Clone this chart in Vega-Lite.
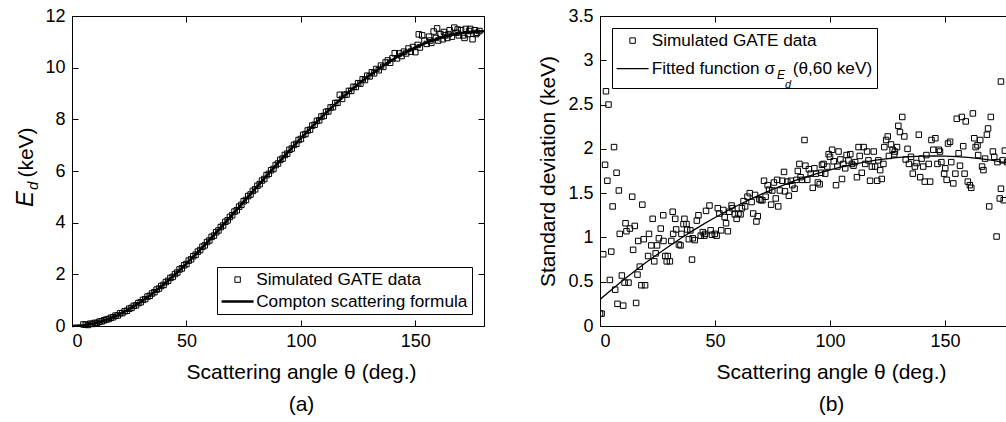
{
  "$schema": "https://vega.github.io/schema/vega-lite/v6.json",
  "padding": {"left": 12, "top": 6, "right": 0, "bottom": 0},
  "background": "white",
  "bounds": "flush",
  "spacing": 116,
  "resolve": {"scale": {"color": "independent"}, "legend": {"color": "independent"}},
  "config": {
    "font": "Liberation Sans",
    "view": {"stroke": "black", "strokeWidth": 1},
    "axis": {"grid": false, "domainColor": "black", "tickColor": "black", "labelColor": "black", "titleColor": "black", "labelFontSize": 18, "titleFontSize": 21, "titleFontWeight": "normal", "tickSize": -6, "labelFont": "Liberation Sans", "titleFont": "Liberation Sans"},
    "legend": {"labelFont": "Liberation Sans", "labelFontSize": 17.2, "labelColor": "black", "strokeColor": "black", "labelLimit": 400},
    "title": {"font": "Liberation Sans", "fontWeight": "normal", "color": "black"}
  },
  "datasets": {
    "pa": [
      {"t":5,"e":0.06},{"t":6,"e":0.05},{"t":7,"e":0.04},{"t":8,"e":0.09},{"t":9,"e":0.08},{"t":10,"e":0.12},{"t":11,"e":0.12},{"t":12,"e":0.17},{"t":13,"e":0.18},{"t":14,"e":0.22},
      {"t":15,"e":0.25},{"t":16,"e":0.27},{"t":17,"e":0.32},{"t":18,"e":0.34},{"t":19,"e":0.40},{"t":20,"e":0.41},{"t":21,"e":0.49},{"t":22,"e":0.50},{"t":23,"e":0.57},{"t":24,"e":0.59},
      {"t":25,"e":0.67},{"t":26,"e":0.70},{"t":27,"e":0.78},{"t":28,"e":0.80},{"t":29,"e":0.89},{"t":30,"e":0.92},{"t":31,"e":1.01},{"t":32,"e":1.04},{"t":33,"e":1.14},{"t":34,"e":1.17},
      {"t":35,"e":1.26},{"t":36,"e":1.31},{"t":37,"e":1.41},{"t":38,"e":1.45},{"t":39,"e":1.55},{"t":40,"e":1.59},{"t":41,"e":1.70},{"t":42,"e":1.75},{"t":43,"e":1.86},{"t":44,"e":1.90},
      {"t":45,"e":2.01},{"t":46,"e":2.07},{"t":47,"e":2.19},{"t":48,"e":2.23},{"t":49,"e":2.35},{"t":50,"e":2.40},{"t":51,"e":2.53},{"t":52,"e":2.58},{"t":53,"e":2.70},{"t":54,"e":2.76},
      {"t":55,"e":2.88},{"t":56,"e":2.94},{"t":57,"e":3.07},{"t":58,"e":3.12},{"t":59,"e":3.25},{"t":60,"e":3.31},{"t":61,"e":3.45},{"t":62,"e":3.50},{"t":63,"e":3.63},{"t":64,"e":3.70},
      {"t":65,"e":3.83},{"t":66,"e":3.89},{"t":67,"e":4.03},{"t":68,"e":4.09},{"t":69,"e":4.22},{"t":70,"e":4.29},{"t":71,"e":4.43},{"t":72,"e":4.48},{"t":73,"e":4.62},{"t":74,"e":4.69},
      {"t":75,"e":4.83},{"t":76,"e":4.88},{"t":77,"e":5.03},{"t":78,"e":5.09},{"t":79,"e":5.23},{"t":80,"e":5.29},{"t":81,"e":5.43},{"t":82,"e":5.49},{"t":83,"e":5.63},{"t":84,"e":5.69},
      {"t":85,"e":5.84},{"t":86,"e":5.89},{"t":87,"e":6.03},{"t":88,"e":6.08},{"t":89,"e":6.23},{"t":90,"e":6.29},{"t":91,"e":6.43},{"t":92,"e":6.48},{"t":93,"e":6.62},{"t":94,"e":6.67},
      {"t":95,"e":6.82},{"t":96,"e":6.87},{"t":97,"e":7.01},{"t":98,"e":7.05},{"t":99,"e":7.20},{"t":100,"e":7.24},{"t":101,"e":7.40},{"t":102,"e":7.43},{"t":103,"e":7.57},{"t":104,"e":7.60},
      {"t":105,"e":7.76},{"t":106,"e":7.79},{"t":107,"e":7.94},{"t":108,"e":7.96},{"t":109,"e":8.11},{"t":110,"e":8.13},{"t":111,"e":8.29},{"t":112,"e":8.31},{"t":113,"e":8.46},{"t":114,"e":8.47},
      {"t":115,"e":8.63},{"t":116,"e":8.64},{"t":117,"e":8.95},{"t":118,"e":8.79},{"t":119,"e":8.95},{"t":120,"e":8.96},{"t":121,"e":9.10},{"t":122,"e":9.10},{"t":123,"e":9.26},{"t":124,"e":9.25},
      {"t":125,"e":9.40},{"t":126,"e":9.38},{"t":127,"e":9.55},{"t":128,"e":9.52},{"t":129,"e":9.69},{"t":130,"e":9.66},{"t":131,"e":9.82},{"t":132,"e":9.78},{"t":133,"e":9.95},{"t":134,"e":9.90},
      {"t":135,"e":10.08},{"t":136,"e":10.03},{"t":137,"e":10.20},{"t":138,"e":10.28},{"t":139,"e":10.19},{"t":140,"e":10.36},{"t":141,"e":10.56},{"t":142,"e":10.36},{"t":143,"e":10.55},{"t":144,"e":10.45},
      {"t":145,"e":10.62},{"t":146,"e":10.55},{"t":147,"e":10.74},{"t":148,"e":10.62},{"t":149,"e":10.80},{"t":150,"e":10.60},{"t":151,"e":10.88},{"t":151.5,"e":11.29},{"t":152,"e":10.78},{"t":153,"e":11.25},
      {"t":154,"e":11.05},{"t":155,"e":10.92},{"t":156,"e":11.20},{"t":156.5,"e":11.05},{"t":157,"e":10.96},{"t":158,"e":11.40},{"t":159,"e":11.15},{"t":159.5,"e":11.52},{"t":160,"e":11.05},{"t":161,"e":11.30},
      {"t":162,"e":11.10},{"t":162.5,"e":11.38},{"t":163,"e":11.25},{"t":164,"e":11.15},{"t":164.5,"e":11.30},{"t":165,"e":11.45},{"t":166,"e":11.20},{"t":167,"e":11.55},{"t":168,"e":11.35},{"t":168.5,"e":11.48},
      {"t":169,"e":11.25},{"t":170,"e":11.45},{"t":171,"e":11.25},{"t":171.5,"e":11.15},{"t":172,"e":11.50},{"t":173,"e":11.30},{"t":173.5,"e":11.42},{"t":174,"e":11.50},{"t":175,"e":11.10},{"t":176,"e":11.45},
      {"t":176.5,"e":11.30},{"t":177,"e":11.35},{"t":178,"e":11.42}
    ],
    "la": [
      {"t":0,"e":0},{"t":5,"e":0.027},{"t":10,"e":0.107},{"t":15,"e":0.239},{"t":20,"e":0.422},{"t":25,"e":0.653},{"t":30,"e":0.929},{"t":35,"e":1.248},{"t":40,"e":1.604},{"t":45,"e":1.995},
      {"t":50,"e":2.415},{"t":55,"e":2.861},{"t":60,"e":3.327},{"t":65,"e":3.810},{"t":70,"e":4.303},{"t":75,"e":4.804},{"t":80,"e":5.307},{"t":85,"e":5.809},{"t":90,"e":6.305},{"t":95,"e":6.792},
      {"t":100,"e":7.267},{"t":105,"e":7.726},{"t":110,"e":8.168},{"t":115,"e":8.588},{"t":120,"e":8.985},{"t":125,"e":9.357},{"t":130,"e":9.702},{"t":135,"e":10.019},{"t":140,"e":10.305},{"t":145,"e":10.560},
      {"t":150,"e":10.784},{"t":155,"e":10.974},{"t":160,"e":11.130},{"t":165,"e":11.253},{"t":170,"e":11.340},{"t":175,"e":11.393},{"t":180,"e":11.411}
    ],
    "pb": [
      {"t":0,"s":0.14},{"t":0.7,"s":0.14},{"t":2.6,"s":2.65},{"t":3.7,"s":2.50},{"t":2.2,"s":1.82},{"t":3.2,"s":1.64},{"t":6.1,"s":2.02},{"t":7.2,"s":1.73},{"t":5.5,"s":1.35},{"t":8.2,"s":1.53},
      {"t":1.4,"s":0.81},{"t":4.9,"s":0.84},{"t":4.3,"s":0.52},{"t":6.6,"s":0.41},{"t":7.6,"s":0.25},{"t":10.1,"s":0.23},{"t":9.5,"s":0.57},{"t":10.7,"s":0.49},{"t":12.4,"s":0.49},{"t":8.6,"s":1.04},
      {"t":11.1,"s":1.16},{"t":11.5,"s":1.07},{"t":13,"s":1.10},{"t":15.1,"s":1.13},{"t":14,"s":1.46},{"t":18.4,"s":1.37},{"t":14.4,"s":0.86},{"t":15.7,"s":0.26},{"t":16.3,"s":0.58},{"t":17.3,"s":0.67},
      {"t":18,"s":0.46},{"t":19.6,"s":0.46},{"t":16.6,"s":0.96},{"t":19,"s":0.98},{"t":20.9,"s":0.79},{"t":21.3,"s":1.04},{"t":22.9,"s":1.21},{"t":22.3,"s":0.91},{"t":23.6,"s":0.73},{"t":24.2,"s":0.82},
      {"t":24.8,"s":0.91},{"t":25.6,"s":0.99},{"t":26.4,"s":1.10},{"t":27.5,"s":1.25},{"t":27.6,"s":0.96},{"t":28.4,"s":0.79},{"t":29,"s":0.73},{"t":30.4,"s":0.73},{"t":29.5,"s":0.79},{"t":31,"s":0.96},
      {"t":31.6,"s":1.29},{"t":31.8,"s":1.04},{"t":32.7,"s":1.21},{"t":33.1,"s":1.09},{"t":34.3,"s":0.92},{"t":35,"s":0.91},{"t":35.4,"s":1.04},{"t":36.3,"s":1.15},{"t":36.7,"s":1.21},{"t":37.6,"s":1.15},
      {"t":37.9,"s":1.09},{"t":38.6,"s":0.98},{"t":39.3,"s":1.08},{"t":40,"s":0.75},{"t":40.3,"s":0.99},{"t":41.2,"s":0.97},{"t":42.1,"s":1.19},{"t":42.8,"s":1.25},{"t":43.8,"s":1.02},{"t":44.7,"s":1.06},
      {"t":45.4,"s":1.02},{"t":46.1,"s":1.30},{"t":45.7,"s":1.04},{"t":47.6,"s":1.36},{"t":48.1,"s":1.08},{"t":48.7,"s":1.03},{"t":49.9,"s":1.04},{"t":50.7,"s":1.02},{"t":51.2,"s":1.33},{"t":51.9,"s":1.27},
      {"t":52.7,"s":1.08},{"t":53.6,"s":1.31},{"t":54.2,"s":1.23},{"t":54.8,"s":1.16},{"t":55.6,"s":1.07},{"t":56.2,"s":1.29},{"t":57.2,"s":1.36},{"t":57.6,"s":1.33},{"t":58.6,"s":1.26},{"t":59.4,"s":1.21},
      {"t":60.2,"s":1.27},{"t":61.1,"s":1.26},{"t":61.7,"s":1.33},{"t":62.4,"s":1.41},{"t":63.1,"s":1.35},{"t":64.1,"s":1.46},{"t":65.1,"s":1.50},{"t":65.9,"s":1.40},{"t":66.6,"s":1.27},{"t":67.4,"s":1.48},
      {"t":68,"s":1.18},{"t":68.6,"s":1.24},{"t":69.3,"s":1.43},{"t":70,"s":1.42},{"t":70.6,"s":1.42},{"t":71.3,"s":1.64},{"t":72,"s":1.46},{"t":72.9,"s":1.59},{"t":73.5,"s":1.54},{"t":74.4,"s":1.37},
      {"t":74.9,"s":1.53},{"t":75.6,"s":1.62},{"t":76.4,"s":1.44},{"t":77,"s":1.65},{"t":77.5,"s":1.35},{"t":78.2,"s":1.53},{"t":79.3,"s":1.64},{"t":80,"s":1.74},{"t":80.4,"s":1.52},{"t":81.4,"s":1.63},
      {"t":82.1,"s":1.47},{"t":83,"s":1.64},{"t":83.6,"s":1.59},{"t":84.6,"s":1.55},{"t":85.4,"s":1.65},{"t":86,"s":1.75},{"t":86.7,"s":1.83},{"t":87.2,"s":1.68},{"t":87.9,"s":1.65},{"t":88.9,"s":2.10},
      {"t":89.3,"s":1.81},{"t":90.1,"s":1.65},{"t":90.8,"s":1.77},{"t":91.6,"s":1.72},{"t":92.5,"s":1.56},{"t":93.2,"s":1.78},{"t":93.9,"s":1.72},{"t":94.7,"s":1.62},{"t":95.5,"s":1.60},{"t":96.1,"s":1.73},
      {"t":96.5,"s":1.82},{"t":97.2,"s":1.83},{"t":97.9,"s":1.72},{"t":98.8,"s":1.80},{"t":99.4,"s":1.94},{"t":100,"s":1.91},{"t":100.9,"s":1.99},{"t":101.6,"s":1.86},{"t":102.6,"s":1.59},{"t":103.2,"s":1.80},
      {"t":103.7,"s":1.97},{"t":104.5,"s":1.88},{"t":105.2,"s":1.66},{"t":105.8,"s":1.83},{"t":106.6,"s":1.78},{"t":107.2,"s":1.93},{"t":108,"s":1.87},{"t":108.8,"s":1.94},{"t":109.5,"s":1.83},{"t":110.2,"s":1.81},
      {"t":110.9,"s":1.85},{"t":111.7,"s":1.68},{"t":112.4,"s":2.02},{"t":112.9,"s":1.92},{"t":113.8,"s":1.73},{"t":114.6,"s":2.02},{"t":115.3,"s":1.83},{"t":116.1,"s":1.97},{"t":116.7,"s":1.87},{"t":117.4,"s":1.64},
      {"t":118.2,"s":1.80},{"t":119,"s":1.97},{"t":119.6,"s":1.80},{"t":120.5,"s":1.64},{"t":121,"s":1.87},{"t":121.8,"s":1.76},{"t":122.5,"s":1.66},{"t":123.2,"s":1.83},{"t":123.6,"s":2.02},{"t":124.4,"s":2.10},
      {"t":125.1,"s":2.14},{"t":125.6,"s":1.92},{"t":126.5,"s":2.05},{"t":127.2,"s":1.99},{"t":127.9,"s":1.94},{"t":128.2,"s":1.97},{"t":129.1,"s":2.02},{"t":129.7,"s":2.26},{"t":130.4,"s":2.19},{"t":131.4,"s":2.36},
      {"t":132.3,"s":2.14},{"t":132.9,"s":1.88},{"t":133.7,"s":2.00},{"t":134.3,"s":1.83},{"t":135.2,"s":1.91},{"t":136,"s":1.72},{"t":136.9,"s":1.80},{"t":137.6,"s":1.84},{"t":138.6,"s":2.16},{"t":139.2,"s":1.68},
      {"t":139.8,"s":1.89},{"t":140.5,"s":1.80},{"t":141.2,"s":1.63},{"t":141.9,"s":1.93},{"t":142.9,"s":1.83},{"t":143.5,"s":1.63},{"t":144.1,"s":2.10},{"t":144.9,"s":1.99},{"t":145.8,"s":2.12},{"t":146.7,"s":1.83},
      {"t":147.3,"s":1.99},{"t":147.8,"s":1.97},{"t":148.4,"s":1.85},{"t":149.6,"s":1.72},{"t":150.1,"s":1.78},{"t":150.7,"s":1.65},{"t":151.3,"s":2.06},{"t":152.2,"s":2.08},{"t":152.7,"s":1.85},{"t":153.6,"s":1.61},
      {"t":154.5,"s":1.72},{"t":155.1,"s":2.34},{"t":155.9,"s":1.95},{"t":156.5,"s":1.81},{"t":157.3,"s":2.36},{"t":157.9,"s":2.03},{"t":158.5,"s":1.72},{"t":159,"s":2.31},{"t":159.9,"s":1.63},{"t":160.8,"s":1.59},
      {"t":161.4,"s":1.56},{"t":162.1,"s":2.40},{"t":162.7,"s":2.12},{"t":163.3,"s":2.02},{"t":164.1,"s":2.04},{"t":164.4,"s":1.93},{"t":165.3,"s":2.10},{"t":166.1,"s":1.80},{"t":166.7,"s":1.76},{"t":167.4,"s":1.89},
      {"t":168.2,"s":2.16},{"t":168.7,"s":2.23},{"t":169.2,"s":1.35},{"t":169.9,"s":2.36},{"t":170.8,"s":1.97},{"t":171.4,"s":1.91},{"t":172.4,"s":1.01},{"t":172.8,"s":1.85},{"t":174.3,"s":2.76},{"t":173.8,"s":1.44},
      {"t":174.3,"s":1.55},{"t":175,"s":1.87},{"t":175.5,"s":1.42},{"t":176,"s":1.98},{"t":177,"s":1.85}
    ],
    "lb": [
      {"t":0,"s":0.300},{"t":5,"s":0.410},{"t":10,"s":0.516},{"t":15,"s":0.618},{"t":20,"s":0.716},{"t":25,"s":0.810},{"t":30,"s":0.901},{"t":35,"s":0.988},{"t":40,"s":1.071},{"t":45,"s":1.150},
      {"t":50,"s":1.225},{"t":55,"s":1.296},{"t":60,"s":1.363},{"t":65,"s":1.427},{"t":70,"s":1.487},{"t":75,"s":1.542},{"t":80,"s":1.594},{"t":85,"s":1.643},{"t":90,"s":1.687},{"t":95,"s":1.727},
      {"t":100,"s":1.764},{"t":105,"s":1.797},{"t":110,"s":1.826},{"t":115,"s":1.851},{"t":120,"s":1.872},{"t":125,"s":1.889},{"t":130,"s":1.903},{"t":135,"s":1.912},{"t":140,"s":1.918},{"t":145,"s":1.920},
      {"t":150,"s":1.918},{"t":155,"s":1.912},{"t":160,"s":1.903},{"t":165,"s":1.889},{"t":170,"s":1.872},{"t":175,"s":1.851},{"t":180,"s":1.826}
    ]
  },
  "hconcat": [
    {
      "width": 412,
      "height": 310,
      "title": {"text": "d", "orient": "left", "anchor": "start", "frame": "group", "baseline": "alphabetic", "dx": 136, "dy": 0, "offset": -40, "fontSize": 15, "fontStyle": "italic"},
      "resolve": {"axis": {"x": "independent", "y": "independent"}},
      "layer": [
        {
          "data": {"name": "pa"},
          "mark": {"type": "point", "shape": "square", "filled": false, "size": 30, "strokeWidth": 1, "opacity": 1},
          "encoding": {
            "x": {"field": "t", "type": "quantitative", "scale": {"domain": [0, 180], "nice": false},
                  "axis": {"orient": "bottom", "values": [0, 50, 100, 150], "labelPadding": 12, "title": ["Scattering angle θ (deg.)", "(a)"], "titleX": 229, "titleY": 52, "titleBaseline": "alphabetic", "titleAlign": "center", "titleAngle": 0, "titleLineHeight": 32}},
            "y": {"field": "e", "type": "quantitative", "scale": {"domain": [0, 12], "nice": false},
                  "axis": {"orient": "left", "values": [0, 2, 4, 6, 8, 10, 12], "labelPadding": 13, "title": "(keV)", "titleX": -40, "titleY": 136, "titleBaseline": "alphabetic", "titleAlign": "center", "titleAngle": -90}},
            "color": {"datum": "Simulated GATE data", "type": "nominal",
                      "scale": {"domain": ["Simulated GATE data", "Compton scattering formula"], "range": ["black", "black"]},
                      "legend": {"title": null, "orient": "bottom-right", "offset": 12, "padding": 4, "rowPadding": 4, "symbolOffset": 8, "labelOffset": 10, "columns": 1, "strokeColor": "black", "fillColor": "white",
                                 "encoding": {"symbols": {
                                   "shape": {"value": {"expr": "datum.value === 'Simulated GATE data' ? 'square' : 'stroke'"}},
                                   "size": {"value": {"expr": "datum.value === 'Simulated GATE data' ? 30 : 1024"}},
                                   "strokeWidth": {"value": {"expr": "datum.value === 'Simulated GATE data' ? 1 : 2.5"}},
                                   "stroke": {"value": "black"},
                                   "fill": {"value": "transparent"},
                                   "opacity": {"value": 1}}}}}
          }
        },
        {
          "data": {"name": "la"},
          "mark": {"type": "line", "strokeWidth": 2.5},
          "encoding": {
            "x": {"field": "t", "type": "quantitative", "axis": {"orient": "top", "values": [0, 50, 100, 150], "labels": false, "title": null, "domain": false}},
            "y": {"field": "e", "type": "quantitative", "axis": {"orient": "right", "values": [0, 2, 4, 6, 8, 10, 12], "labels": false, "domain": false, "title": "E", "titleX": -452, "titleY": 182.5, "titleBaseline": "alphabetic", "titleAlign": "center", "titleAngle": -90, "titleFontSize": 24, "titleFontStyle": "italic"}},
            "color": {"datum": "Compton scattering formula", "type": "nominal"}
          }
        }
      ]
    },
    {
      "width": 406,
      "height": 310,
      "resolve": {"axis": {"x": "independent", "y": "independent"}},
      "layer": [
        {
          "data": {"name": "pb"},
          "mark": {"type": "point", "shape": "square", "filled": false, "size": 30, "strokeWidth": 1, "opacity": 1, "clip": true},
          "encoding": {
            "x": {"field": "t", "type": "quantitative", "scale": {"domain": [0, 176.5], "nice": false},
                  "axis": {"orient": "bottom", "values": [0, 50, 100, 150], "labelPadding": 12, "title": ["Scattering angle θ (deg.)", "(b)"], "titleX": 231, "titleY": 52, "titleBaseline": "alphabetic", "titleAlign": "center", "titleAngle": 0, "titleLineHeight": 32}},
            "y": {"field": "s", "type": "quantitative", "scale": {"domain": [0, 3.5], "nice": false},
                  "axis": {"orient": "left", "values": [0, 0.5, 1, 1.5, 2, 2.5, 3, 3.5], "format": "~g", "labelPadding": 13, "title": "Standard deviation (keV)", "titleX": -46, "titleY": 155, "titleBaseline": "alphabetic", "titleAlign": "center", "titleAngle": -90}},
            "color": {"datum": "Simulated GATE data", "type": "nominal",
                      "scale": {"domain": ["Simulated GATE data", "Fitted function σ\u2009\u00a0\u00a0\u00a0(θ,60 keV)"], "range": ["black", "black"]},
                      "legend": {"title": "\u00a0", "titleOrient": "bottom", "titleFontSize": 6, "titlePadding": 1, "orient": "top-left", "offset": 12, "padding": 4, "rowPadding": 10, "symbolOffset": 8, "labelOffset": 10.5, "columns": 1, "strokeColor": "black", "fillColor": null,
                                 "encoding": {"symbols": {
                                   "shape": {"value": {"expr": "datum.value === 'Simulated GATE data' ? 'square' : 'stroke'"}},
                                   "size": {"value": {"expr": "datum.value === 'Simulated GATE data' ? 30 : 1024"}},
                                   "strokeWidth": {"value": {"expr": "datum.value === 'Simulated GATE data' ? 1 : 1.3"}},
                                   "stroke": {"value": "black"},
                                   "fill": {"value": "transparent"},
                                   "opacity": {"value": 1}}}}}
          }
        },
        {
          "data": {"name": "lb"},
          "mark": {"type": "line", "strokeWidth": 1.3, "clip": true},
          "encoding": {
            "x": {"field": "t", "type": "quantitative", "axis": {"orient": "top", "values": [0, 50, 100, 150], "labels": false, "domain": false, "title": "E", "titleX": 176.5, "titleY": 62.8, "titleBaseline": "alphabetic", "titleAlign": "left", "titleAngle": 0, "titleFontSize": 12, "titleFontStyle": "italic"}},
            "y": {"field": "s", "type": "quantitative", "axis": {"orient": "left", "ticks": false, "labels": false, "domain": false, "title": "d", "titleX": 184.5, "titleY": 71.6, "titleBaseline": "alphabetic", "titleAlign": "left", "titleAngle": 0, "titleFontSize": 11, "titleFontStyle": "italic"}},
            "color": {"datum": "Fitted function σ\u2009\u00a0\u00a0\u00a0(θ,60 keV)", "type": "nominal"}
          }
        }
      ]
    }
  ]
}
